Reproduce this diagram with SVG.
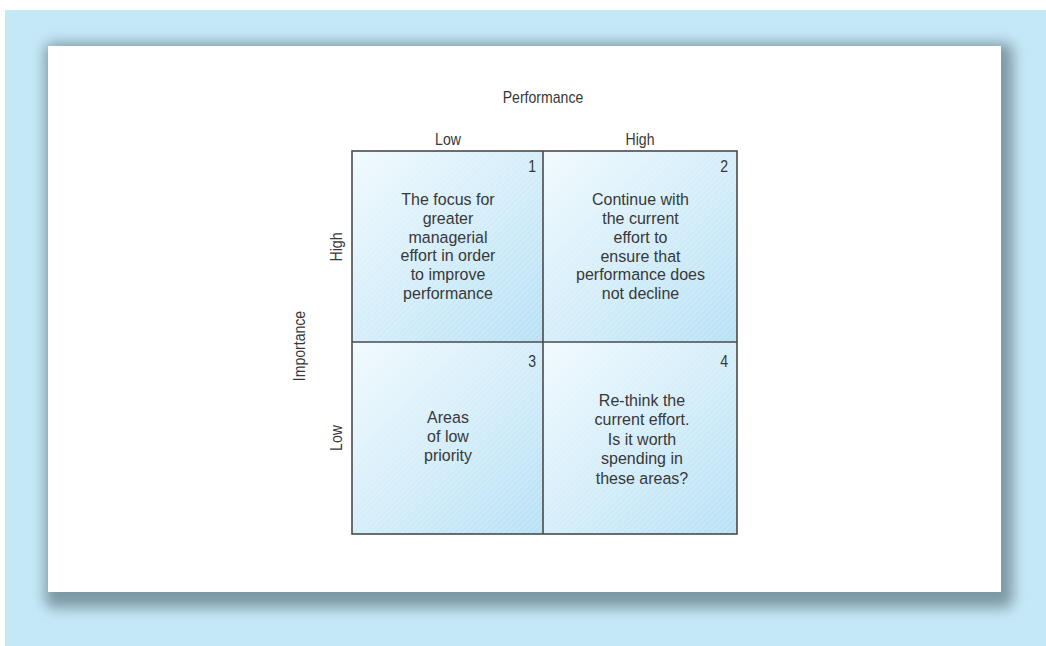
<svg xmlns="http://www.w3.org/2000/svg" width="1046" height="646" viewBox="0 0 1046 646">
  <style>
    .t { font-family: "Liberation Sans", Arial, sans-serif; fill: #383838; }
    .axis { font-size: 16px; }
    .body { font-size: 16.5px; text-anchor: middle; }
    .num { font-size: 16px; text-anchor: end; }
    .cell { stroke: #4a4a4a; stroke-width: 1.6; }
  </style>
  <defs>
    <linearGradient id="cellGrad" x1="0" y1="0" x2="1" y2="1">
      <stop offset="0" stop-color="#f1fafe"/>
      <stop offset="1" stop-color="#b8e1f5"/>
    </linearGradient>
    <pattern id="hatch" width="4" height="4" patternUnits="userSpaceOnUse" patternTransform="rotate(45)">
      <line x1="0" y1="0" x2="0" y2="4" stroke="#ffffff" stroke-width="1.2" stroke-opacity="0.35"/>
    </pattern>
    <filter id="shadow" x="-10%" y="-10%" width="120%" height="120%">
      <feGaussianBlur stdDeviation="7"/>
    </filter>
  </defs>

  <!-- background -->
  <rect x="5" y="10" width="1041" height="636" fill="#c5e8f7"/>
  <rect x="45" y="43" width="968" height="565" rx="8" fill="#7e98a5" filter="url(#shadow)"/>
  <rect x="48" y="46" width="953" height="546" fill="#ffffff"/>

  <!-- axis labels -->
  <g id="axis-performance">
    <text class="t axis" transform="translate(543,103) scale(0.88,1)" text-anchor="middle">Performance</text>
    <text class="t axis" transform="translate(448,145) scale(0.88,1)" text-anchor="middle">Low</text>
    <text class="t axis" transform="translate(640,145) scale(0.88,1)" text-anchor="middle">High</text>
  </g>
  <g id="axis-importance">
    <text class="t axis" transform="translate(305,346) rotate(-90) scale(0.88,1)" text-anchor="middle">Importance</text>
    <text class="t axis" transform="translate(342,247) rotate(-90) scale(0.88,1)" text-anchor="middle">High</text>
    <text class="t axis" transform="translate(342,438) rotate(-90) scale(0.88,1)" text-anchor="middle">Low</text>
  </g>

  <!-- quadrant 1 -->
  <g id="q1">
    <rect x="352" y="151" width="191" height="191" fill="url(#cellGrad)"/>
    <rect x="352" y="151" width="191" height="191" fill="url(#hatch)"/>
    <text class="t num" transform="translate(536,172) scale(0.88,1)">1</text>
    <g transform="translate(448,0) scale(0.97,1)">
      <text class="t body" x="0" y="205">The focus for</text>
      <text class="t body" x="0" y="223.8">greater</text>
      <text class="t body" x="0" y="242.6">managerial</text>
      <text class="t body" x="0" y="261.4">effort in order</text>
      <text class="t body" x="0" y="280.2">to improve</text>
      <text class="t body" x="0" y="299">performance</text>
    </g>
  </g>

  <!-- quadrant 2 -->
  <g id="q2">
    <rect x="543" y="151" width="194" height="191" fill="url(#cellGrad)"/>
    <rect x="543" y="151" width="194" height="191" fill="url(#hatch)"/>
    <text class="t num" transform="translate(728,172) scale(0.88,1)">2</text>
    <g transform="translate(640.5,0) scale(0.97,1)">
      <text class="t body" x="0" y="205.5">Continue with</text>
      <text class="t body" x="0" y="224.2">the current</text>
      <text class="t body" x="0" y="242.9">effort to</text>
      <text class="t body" x="0" y="261.6">ensure that</text>
      <text class="t body" x="0" y="280.3">performance does</text>
      <text class="t body" x="0" y="299">not decline</text>
    </g>
  </g>

  <!-- quadrant 3 -->
  <g id="q3">
    <rect x="352" y="342" width="191" height="192" fill="url(#cellGrad)"/>
    <rect x="352" y="342" width="191" height="192" fill="url(#hatch)"/>
    <text class="t num" transform="translate(536,367) scale(0.88,1)">3</text>
    <g transform="translate(448,0) scale(0.97,1)">
      <text class="t body" x="0" y="423.5">Areas</text>
      <text class="t body" x="0" y="442.5">of low</text>
      <text class="t body" x="0" y="461.5">priority</text>
    </g>
  </g>

  <!-- quadrant 4 -->
  <g id="q4">
    <rect x="543" y="342" width="194" height="192" fill="url(#cellGrad)"/>
    <rect x="543" y="342" width="194" height="192" fill="url(#hatch)"/>
    <text class="t num" transform="translate(728,367) scale(0.88,1)">4</text>
    <g transform="translate(642,0) scale(0.97,1)">
      <text class="t body" x="0" y="406">Re-think the</text>
      <text class="t body" x="0" y="425.5">current effort.</text>
      <text class="t body" x="0" y="445">Is it worth</text>
      <text class="t body" x="0" y="464.5">spending in</text>
      <text class="t body" x="0" y="484">these areas?</text>
    </g>
  </g>

  <!-- grid lines -->
  <g id="connectors" fill="none" class="cell">
    <rect x="352" y="151" width="385" height="383"/>
    <line x1="543" y1="151" x2="543" y2="534"/>
    <line x1="352" y1="342" x2="737" y2="342"/>
  </g>
</svg>
